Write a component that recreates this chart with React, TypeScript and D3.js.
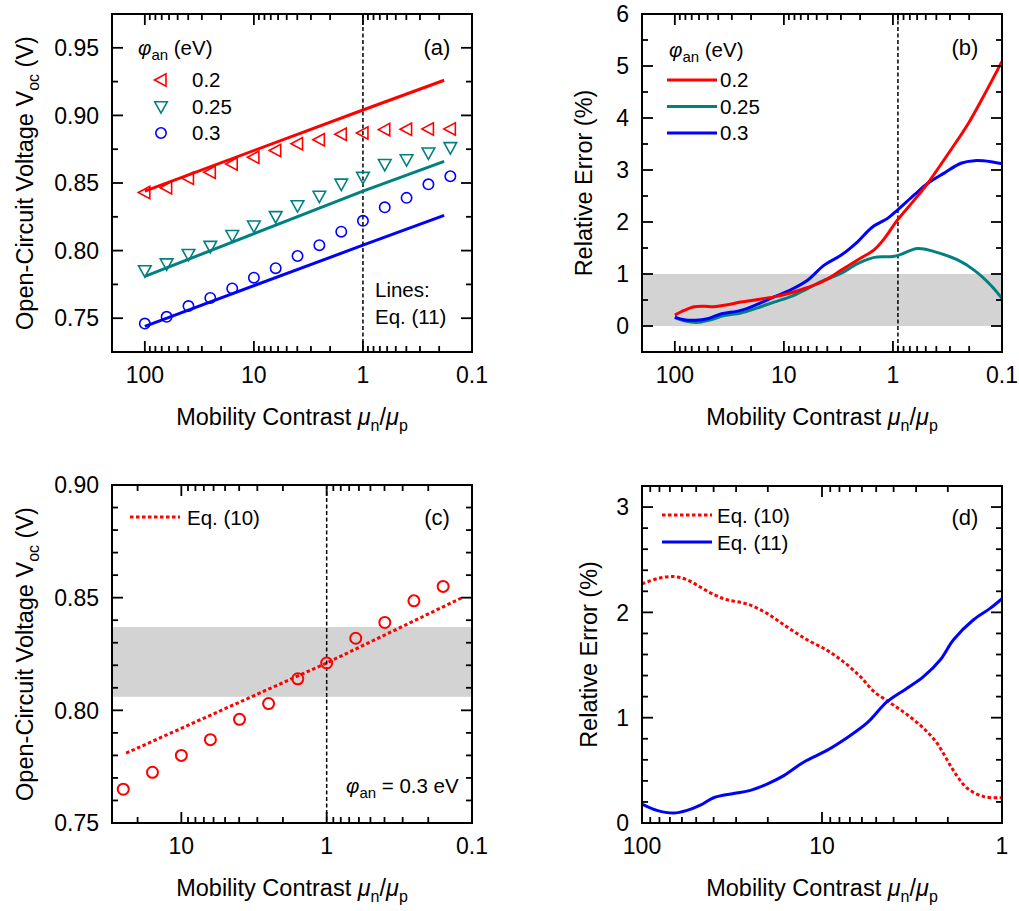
import React from "react";
import * as d3 from "d3";

const FONT = "'Liberation Sans', Arial, Helvetica, sans-serif";
const RED = "#ff0000";
const TEAL = "#008080";
const BLUE = "#0000ff";
const GRAY = "#d3d3d3";

// ---------------- Panel (a): simulated Voc (markers) and Eq. (11) (lines) ----------------
const ratioA = [100, 63.1, 39.8, 25.1, 15.8, 10, 6.31, 3.98, 2.51, 1.58, 1, 0.631, 0.398, 0.251, 0.158];
const simA020 = [0.843, 0.8465, 0.8535, 0.858, 0.864, 0.869, 0.874, 0.879, 0.882, 0.886, 0.887, 0.8895, 0.8897, 0.890, 0.890];
const simA025 = [0.785, 0.790, 0.797, 0.803, 0.811, 0.818, 0.825, 0.833, 0.840, 0.849, 0.854, 0.8635, 0.867, 0.872, 0.876];
const simA030 = [0.746, 0.751, 0.759, 0.765, 0.772, 0.780, 0.787, 0.796, 0.804, 0.814, 0.822, 0.832, 0.839, 0.849, 0.855];
const eq11X = [100, 1, 0.18];
const eq11A020 = [0.844, 0.904, 0.926];
const eq11A025 = [0.781, 0.844, 0.866];
const eq11A030 = [0.744, 0.804, 0.826];
const phiLabels = ["0.2", "0.25", "0.3"];

// ---------------- Panel (b): relative error of Eq. (11) ----------------
const errB020X = [100, 82.2, 66.5, 53.8, 43.7, 32.9, 24.8, 17.4, 12.3, 8.57, 6.07, 4.27, 3.0, 2.11, 1.48, 1.2, 0.908, 0.638, 0.482, 0.294, 0.207, 0.145, 0.1];
const errB020Y = [0.21, 0.30, 0.37, 0.38, 0.37, 0.41, 0.46, 0.51, 0.56, 0.64, 0.74, 0.87, 1.07, 1.27, 1.47, 1.68, 2.04, 2.42, 2.74, 3.39, 3.87, 4.45, 5.09];
const errB025X = [100, 82.2, 61.7, 46.8, 35.3, 24.8, 17.4, 12.3, 8.57, 6.07, 4.27, 3.0, 2.11, 1.48, 0.97, 0.593, 0.417, 0.255, 0.179, 0.126, 0.1];
const errB025Y = [0.16, 0.10, 0.07, 0.12, 0.20, 0.25, 0.35, 0.46, 0.57, 0.72, 0.88, 1.01, 1.20, 1.32, 1.34, 1.49, 1.43, 1.27, 1.07, 0.78, 0.53];
const errB030X = [100, 82.2, 64.6, 50.1, 37.8, 24.8, 17.4, 12.3, 8.57, 6.07, 4.27, 3.0, 2.11, 1.55, 1.12, 0.908, 0.638, 0.482, 0.339, 0.238, 0.179, 0.126, 0.1];
const errB030Y = [0.17, 0.12, 0.11, 0.14, 0.23, 0.30, 0.42, 0.56, 0.70, 0.88, 1.17, 1.36, 1.62, 1.90, 2.07, 2.23, 2.52, 2.74, 2.94, 3.13, 3.18, 3.16, 3.12];
const bandB = [0, 1];
const dashB = 0.9;

// ---------------- Panel (c): phi_an = 0.3 eV, simulation vs Eq. (10) ----------------
const ratioC = [25.1, 15.8, 10, 6.31, 3.98, 2.51, 1.58, 1, 0.631, 0.398, 0.251, 0.158];
const simC030 = [0.765, 0.7725, 0.780, 0.787, 0.796, 0.803, 0.814, 0.821, 0.832, 0.839, 0.8486, 0.855];
const eq10X = [24, 1, 0.117];
const eq10C = [0.781, 0.821, 0.850];
const bandC = [0.806, 0.837];

// ---------------- Panel (d): relative errors of Eq. (10) and Eq. (11) ----------------
const errD10X = [100, 82.6, 66.7, 56.2, 47.4, 40.0, 33.7, 26.1, 20.2, 15.6, 12.1, 9.38, 7.59, 6.12, 5.16, 4.17, 3.37, 2.73, 2.30, 2.02, 1.8, 1.56, 1.26, 1];
const errD10Y = [2.27, 2.32, 2.34, 2.31, 2.24, 2.17, 2.12, 2.08, 1.99, 1.86, 1.74, 1.64, 1.53, 1.39, 1.25, 1.14, 1.03, 0.90, 0.76, 0.60, 0.46, 0.33, 0.25, 0.24];
const errD11X = [100, 82.6, 66.7, 56.2, 47.4, 40.0, 31.0, 25.0, 20.2, 16.3, 12.6, 9.38, 7.26, 5.62, 4.36, 3.37, 2.73, 2.20, 1.86, 1.44, 1.16, 1];
const errD11Y = [0.18, 0.12, 0.095, 0.12, 0.17, 0.24, 0.28, 0.31, 0.37, 0.45, 0.58, 0.69, 0.81, 0.95, 1.15, 1.28, 1.39, 1.55, 1.74, 1.93, 2.04, 2.13];

// ---------------- axis ticks ----------------
const xTickValsAB = [100, 10, 1, 0.1];
const xTickTextAB = ["100", "10", "1", "0.1"];
const xTickValsC = [10, 1, 0.1];
const xTickTextC = ["10", "1", "0.1"];
const xTickValsD = [100, 10, 1];
const xTickTextD = ["100", "10", "1"];
const yMajorA = [0.75, 0.8, 0.85, 0.9, 0.95];
const yTextA = ["0.75", "0.80", "0.85", "0.90", "0.95"];
const yMinorA = [0.725, 0.775, 0.825, 0.875, 0.925, 0.975];
const yMajorB = [0, 1, 2, 3, 4, 5, 6];
const yTextB = ["0", "1", "2", "3", "4", "5", "6"];
const yMinorB = [-0.5, 0.5, 1.5, 2.5, 3.5, 4.5, 5.5];
const yMajorC = [0.75, 0.8, 0.85, 0.9];
const yTextC = ["0.75", "0.80", "0.85", "0.90"];
const yMinorC = [0.76, 0.77, 0.78, 0.79, 0.81, 0.82, 0.83, 0.84, 0.86, 0.87, 0.88, 0.89];
const yMajorD = [0, 1, 2, 3];
const yTextD = ["0", "1", "2", "3"];
const yMinorD = [0.2, 0.4, 0.6, 0.8, 1.2, 1.4, 1.6, 1.8, 2.2, 2.4, 2.6, 2.8];

type G = { x0: number; x1: number; y0: number; y1: number };
const gA: G = { x0: 112, x1: 472, y0: 14, y1: 352 };
const gB: G = { x0: 642, x1: 1002, y0: 14, y1: 352 };
const gC: G = { x0: 112, x1: 472, y0: 485, y1: 823 };
const gD: G = { x0: 642, x1: 1002, y0: 486, y1: 823 };

function logTicks(lo: number, hi: number) {
  const out: { v: number; major: boolean }[] = [];
  for (let k = Math.floor(Math.log10(lo)); k <= Math.ceil(Math.log10(hi)); k++) {
    for (let m = 1; m <= 9; m++) {
      const v = m * Math.pow(10, k);
      if (v >= lo * 0.999 && v <= hi * 1.001) out.push({ v, major: m === 1 });
    }
  }
  return out;
}

const MAJ = 11;
const MIN = 6;
const TSW = 1.8;

function Axes({ g, x, y, xVals, xText, yMajor, yMinor, yText }: any) {
  const d = x.domain();
  const lo = Math.min(d[0], d[1]);
  const hi = Math.max(d[0], d[1]);
  const xt = logTicks(lo, hi);
  return (
    <g>
      {xt.map((t, i) => {
        const px = x(t.v);
        const L = t.major ? MAJ : MIN;
        return (
          <g key={"xt" + i} stroke="#000" strokeWidth={TSW}>
            <line x1={px} x2={px} y1={g.y1} y2={g.y1 - L} />
            <line x1={px} x2={px} y1={g.y0} y2={g.y0 + L} />
          </g>
        );
      })}
      {yMajor.map((v: number, i: number) => (
        <g key={"ym" + i} stroke="#000" strokeWidth={TSW}>
          <line x1={g.x0} x2={g.x0 + MAJ} y1={y(v)} y2={y(v)} />
          <line x1={g.x1} x2={g.x1 - MAJ} y1={y(v)} y2={y(v)} />
        </g>
      ))}
      {yMinor.map((v: number, i: number) => (
        <g key={"yn" + i} stroke="#000" strokeWidth={TSW}>
          <line x1={g.x0} x2={g.x0 + MIN} y1={y(v)} y2={y(v)} />
          <line x1={g.x1} x2={g.x1 - MIN} y1={y(v)} y2={y(v)} />
        </g>
      ))}
      <rect x={g.x0} y={g.y0} width={g.x1 - g.x0} height={g.y1 - g.y0} fill="none" stroke="#000" strokeWidth={2} />
      {xVals.map((v: number, i: number) => (
        <text key={"xl" + i} x={x(v)} y={g.y1 + 31} textAnchor="middle" fontSize={23}>
          {xText[i]}
        </text>
      ))}
      {yMajor.map((v: number, i: number) => (
        <text key={"yl" + i} x={g.x0 - 13} y={y(v)} dy="0.36em" textAnchor="end" fontSize={23}>
          {yText[i]}
        </text>
      ))}
      <text x={(g.x0 + g.x1) / 2} y={g.y1 + 73} textAnchor="middle" fontSize={23.5}>
        {"Mobility Contrast "}
        <tspan fontStyle="italic">μ</tspan>
        <tspan dy={6} fontSize={16}>n</tspan>
        <tspan dy={-6}>/</tspan>
        <tspan fontStyle="italic">μ</tspan>
        <tspan dy={6} fontSize={16}>p</tspan>
      </text>
    </g>
  );
}

function VocTitle({ x, cy }: { x: number; cy: number }) {
  return (
    <text transform={`translate(${x},${cy}) rotate(-90)`} textAnchor="middle" fontSize={23.5}>
      {"Open-Circuit Voltage V"}
      <tspan dy={6} fontSize={16}>oc</tspan>
      <tspan dy={-6}>{" (V)"}</tspan>
    </text>
  );
}

function ErrTitle({ x, cy }: { x: number; cy: number }) {
  return (
    <text transform={`translate(${x},${cy}) rotate(-90)`} textAnchor="middle" fontSize={23.5}>
      Relative Error (%)
    </text>
  );
}

function PhiLabel({ x, y, tail }: { x: number; y: number; tail: string }) {
  return (
    <text x={x} y={y} fontSize={20.5}>
      <tspan fontStyle="italic">φ</tspan>
      <tspan dy={5} fontSize={15}>an</tspan>
      <tspan dy={-5}>{tail}</tspan>
    </text>
  );
}

const triLeft = "M-6.5,0 L5,-6.2 L5,6.2 Z";
const triDown = "M-6.3,-5.2 L6.3,-5.2 L0,6.2 Z";

function pairs(xs: number[], ys: number[]): [number, number][] {
  return xs.map((v, i) => [v, ys[i]] as [number, number]);
}

export default function App() {
  // scales
  const xA = d3.scaleLog().domain([200, 0.1]).range([gA.x0, gA.x1]);
  const yA = d3.scaleLinear().domain([0.725, 0.975]).range([gA.y1, gA.y0]);
  const xB = d3.scaleLog().domain([200, 0.1]).range([gB.x0, gB.x1]);
  const yB = d3.scaleLinear().domain([-0.5, 6]).range([gB.y1, gB.y0]);
  const xC = d3.scaleLog().domain([30, 0.1]).range([gC.x0, gC.x1]);
  const yC = d3.scaleLinear().domain([0.75, 0.9]).range([gC.y1, gC.y0]);
  const xD = d3.scaleLog().domain([100, 1]).range([gD.x0, gD.x1]);
  const yD = d3.scaleLinear().domain([0, 3.2]).range([gD.y1, gD.y0]);

  const lineOf = (x: any, y: any, smooth: boolean) =>
    d3
      .line<[number, number]>()
      .x((d) => x(d[0]))
      .y((d) => y(d[1]))
      .curve(smooth ? d3.curveCatmullRom.alpha(0.5) : d3.curveLinear);

  const lA = lineOf(xA, yA, false);
  const lB = lineOf(xB, yB, true);
  const lC = lineOf(xC, yC, false);
  const lD = lineOf(xD, yD, true);

  const dashStyle = { stroke: "#000", strokeWidth: 1.5, strokeDasharray: "4,2.5" };

  return (
    <svg
      width={1019}
      height={911}
      style={{ position: "absolute", left: 0, top: 0, background: "#fff" }}
      fontFamily={FONT}
    >
      <rect x={0} y={0} width={1019} height={911} fill="#fff" />
      <defs>
        {[gA, gB, gC, gD].map((g, i) => (
          <clipPath id={"clip" + i} key={i}>
            <rect x={g.x0} y={g.y0} width={g.x1 - g.x0} height={g.y1 - g.y0} />
          </clipPath>
        ))}
      </defs>

      {/* ---------------- (a) ---------------- */}
      <g clipPath="url(#clip0)">
        <line x1={xA(1)} x2={xA(1)} y1={gA.y0} y2={gA.y1} {...dashStyle} />
        <path d={lA(pairs(eq11X, eq11A020)) || ""} fill="none" stroke={RED} strokeWidth={3} />
        <path d={lA(pairs(eq11X, eq11A025)) || ""} fill="none" stroke={TEAL} strokeWidth={3} />
        <path d={lA(pairs(eq11X, eq11A030)) || ""} fill="none" stroke={BLUE} strokeWidth={3} />
        {ratioA.map((r, i) => (
          <path key={"ar" + i} d={triLeft} transform={`translate(${xA(r)},${yA(simA020[i])})`} fill="none" stroke={RED} strokeWidth={1.6} />
        ))}
        {ratioA.map((r, i) => (
          <path key={"at" + i} d={triDown} transform={`translate(${xA(r)},${yA(simA025[i])})`} fill="none" stroke={TEAL} strokeWidth={1.6} />
        ))}
        {ratioA.map((r, i) => (
          <circle key={"ab" + i} cx={xA(r)} cy={yA(simA030[i])} r={5.2} fill="none" stroke={BLUE} strokeWidth={1.6} />
        ))}
      </g>
      <Axes g={gA} x={xA} y={yA} xVals={xTickValsAB} xText={xTickTextAB} yMajor={yMajorA} yMinor={yMinorA} yText={yTextA} />
      <VocTitle x={33} cy={(gA.y0 + gA.y1) / 2} />
      <PhiLabel x={138} y={55} tail=" (eV)" />
      <path d={triLeft} transform="translate(161,80)" fill="none" stroke={RED} strokeWidth={1.6} />
      <path d={triDown} transform="translate(161,107)" fill="none" stroke={TEAL} strokeWidth={1.6} />
      <circle cx={161} cy={133} r={5.2} fill="none" stroke={BLUE} strokeWidth={1.6} />
      {phiLabels.map((t, i) => (
        <text key={"al" + i} x={192} y={87 + i * 26.5} fontSize={20.5}>
          {t}
        </text>
      ))}
      <text x={437} y={55} textAnchor="middle" fontSize={22}>(a)</text>
      <text x={375} y={297} fontSize={20.5}>Lines:</text>
      <text x={375} y={324} fontSize={20.5}>Eq. (11)</text>

      {/* ---------------- (b) ---------------- */}
      <g clipPath="url(#clip1)">
        <rect x={gB.x0} y={yB(bandB[1])} width={gB.x1 - gB.x0} height={yB(bandB[0]) - yB(bandB[1])} fill={GRAY} />
        <line x1={xB(dashB)} x2={xB(dashB)} y1={gB.y0} y2={gB.y1} {...dashStyle} />
        <path d={lB(pairs(errB025X, errB025Y)) || ""} fill="none" stroke={TEAL} strokeWidth={3} />
        <path d={lB(pairs(errB030X, errB030Y)) || ""} fill="none" stroke={BLUE} strokeWidth={3} />
        <path d={lB(pairs(errB020X, errB020Y)) || ""} fill="none" stroke={RED} strokeWidth={3} />
      </g>
      <Axes g={gB} x={xB} y={yB} xVals={xTickValsAB} xText={xTickTextAB} yMajor={yMajorB} yMinor={yMinorB} yText={yTextB} />
      <ErrTitle x={592} cy={(gB.y0 + gB.y1) / 2} />
      <PhiLabel x={669} y={57} tail=" (eV)" />
      {[RED, TEAL, BLUE].map((c, i) => (
        <line key={"bl" + i} x1={667} x2={717} y1={80 + i * 26.5} y2={80 + i * 26.5} stroke={c} strokeWidth={3} />
      ))}
      {phiLabels.map((t, i) => (
        <text key={"bt" + i} x={720} y={87 + i * 26.5} fontSize={20.5}>
          {t}
        </text>
      ))}
      <text x={965} y={55} textAnchor="middle" fontSize={22}>(b)</text>

      {/* ---------------- (c) ---------------- */}
      <g clipPath="url(#clip2)">
        <rect x={gC.x0} y={yC(bandC[1])} width={gC.x1 - gC.x0} height={yC(bandC[0]) - yC(bandC[1])} fill={GRAY} />
        <line x1={xC(1)} x2={xC(1)} y1={gC.y0} y2={gC.y1} {...dashStyle} />
        <path d={lC(pairs(eq10X, eq10C)) || ""} fill="none" stroke={RED} strokeWidth={3} strokeDasharray="3.5,2.5" />
        {ratioC.map((r, i) => (
          <circle key={"cr" + i} cx={xC(r)} cy={yC(simC030[i])} r={5.5} fill="none" stroke={RED} strokeWidth={2} />
        ))}
      </g>
      <Axes g={gC} x={xC} y={yC} xVals={xTickValsC} xText={xTickTextC} yMajor={yMajorC} yMinor={yMinorC} yText={yTextC} />
      <VocTitle x={33} cy={(gC.y0 + gC.y1) / 2} />
      <line x1={130} x2={180} y1={517} y2={517} stroke={RED} strokeWidth={3} strokeDasharray="3.5,2.5" />
      <text x={187} y={525} fontSize={20.5}>Eq. (10)</text>
      <text x={437} y={525} textAnchor="middle" fontSize={22}>(c)</text>
      <PhiLabel x={346} y={793} tail=" = 0.3 eV" />

      {/* ---------------- (d) ---------------- */}
      <g clipPath="url(#clip3)">
        <path d={lD(pairs(errD10X, errD10Y)) || ""} fill="none" stroke={RED} strokeWidth={3} strokeDasharray="3.5,2.5" />
        <path d={lD(pairs(errD11X, errD11Y)) || ""} fill="none" stroke={BLUE} strokeWidth={3} />
      </g>
      <Axes g={gD} x={xD} y={yD} xVals={xTickValsD} xText={xTickTextD} yMajor={yMajorD} yMinor={yMinorD} yText={yTextD} />
      <ErrTitle x={597} cy={(gD.y0 + gD.y1) / 2} />
      <line x1={662} x2={712} y1={515} y2={515} stroke={RED} strokeWidth={3} strokeDasharray="3.5,2.5" />
      <line x1={662} x2={712} y1={542} y2={542} stroke={BLUE} strokeWidth={3} />
      <text x={717} y={523} fontSize={20.5}>Eq. (10)</text>
      <text x={717} y={550} fontSize={20.5}>Eq. (11)</text>
      <text x={965} y={525} textAnchor="middle" fontSize={22}>(d)</text>
    </svg>
  );
}
